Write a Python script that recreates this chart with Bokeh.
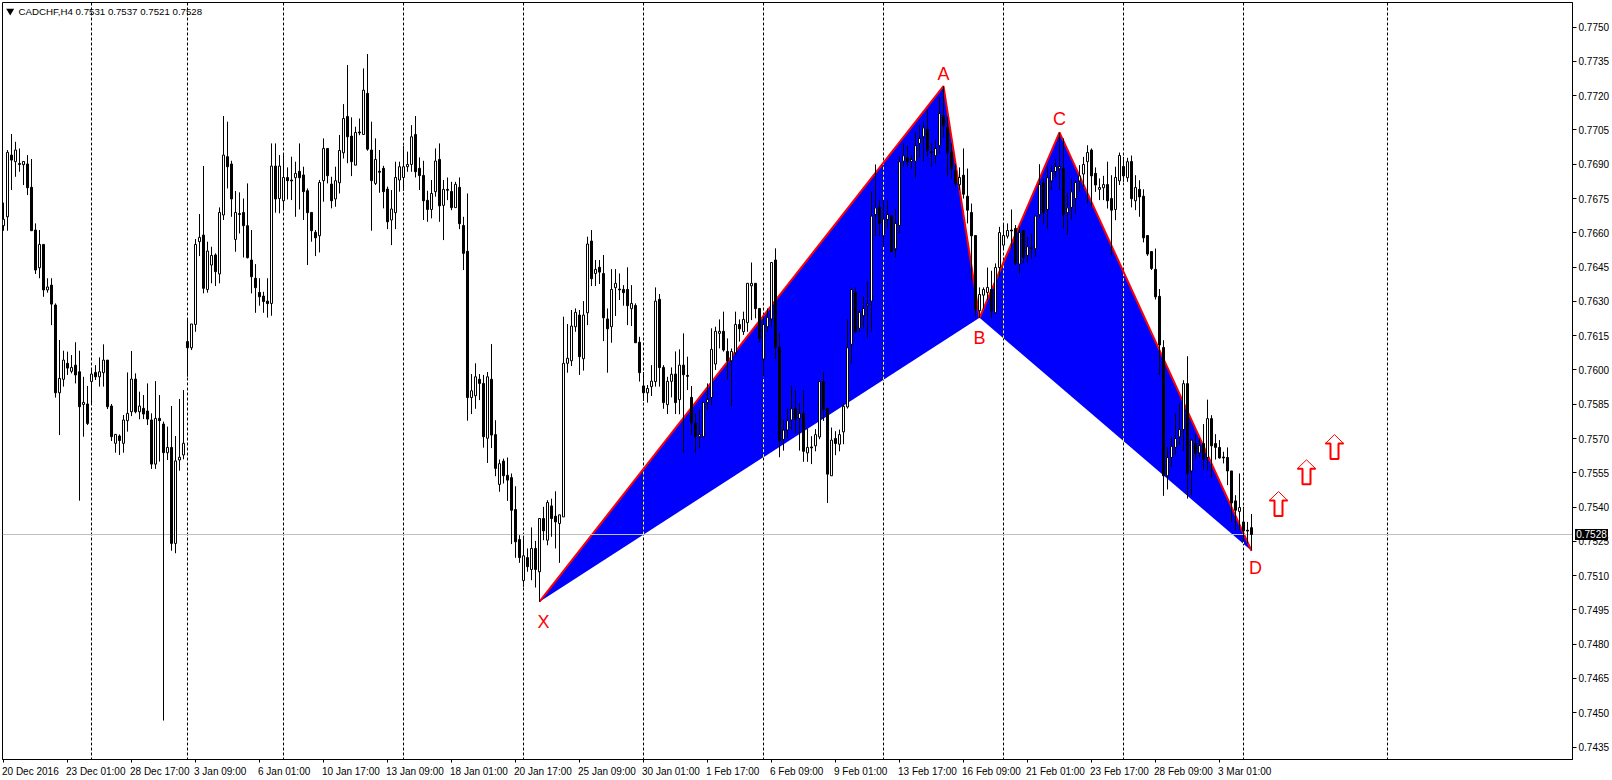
from bokeh.plotting import figure
from bokeh.layouts import column
from bokeh.models import Range1d, FixedTicker, NumeralTickFormatter, Span, Label, Div, ColumnDataSource
from bokeh.core.properties import value
from bokeh.embed import file_html
from bokeh.resources import INLINE

# CADCHF H4 candles, in points (1e-5)
open_pts = [
76631,76670,76940,76911,76903,76898,76901,76799,76612,76447,
76549,76350,76371,76284,75900,75959,76029,75994,76021,75992,
75849,75851,75949,75989,75970,75988,76043,75842,75679,75711,
75679,75778,75817,75960,75817,75832,75820,75781,75588,75788,
75763,75638,75661,75241,75606,75628,76124,76097,76199,76561,
76590,76352,76459,76503,76420,76678,76933,76901,76571,76684,
76689,76631,76481,76401,76339,76323,76301,76291,76892,76750,
76740,76842,76831,76841,76869,76853,76784,76689,76602,76587,
76828,76969,76813,76748,76819,76950,77109,77023,76896,77041,
77030,77210,76962,76816,76869,76882,76791,76656,76688,76831,
76842,76889,76899,77030,76882,76851,76742,76702,76780,76921,
76720,76790,76781,76710,76799,76632,76519,75879,75887,75959,
75941,75701,75959,75717,75499,75601,75539,75529,75389,75258,
75079,75179,75127,75219,75117,75350,75255,75405,75360,75328,
75357,76029,76040,76189,76240,76049,76250,76564,76422,76449,
76422,76223,76189,76360,76354,76352,76352,76268,76282,76121,
75930,75900,75927,75949,76309,76011,75848,75950,75982,75870,
76021,75976,75880,75766,75708,75708,75857,75879,76026,76160,
76169,76081,76040,76075,76199,76167,76207,76368,76379,76269,
76048,76189,76223,76481,76099,75696,75737,75781,75830,75788,
75809,75637,75663,75668,75707,75949,75831,75537,75700,75675,
75729,75838,76112,76339,76182,76237,76281,76301,76680,76711,
76587,76658,76674,76530,76632,76913,76928,76912,76913,76991,
77020,77052,76954,76937,76981,77110,77061,76953,76871,76810,
76852,76760,76689,76588,76259,76327,76339,76352,76250,76448,
76546,76585,76612,76619,76463,76610,76501,76534,76530,76679,
76820,76702,76827,76868,76880,76881,76688,76711,76750,76827,
76857,76911,76962,76860,76790,76797,76811,76750,76702,76827,
76890,76841,76912,76740,76790,76760,76588,76518,76440,76322,
76098,75537,75617,75661,75707,75739,75940,75558,75678,75637,
75678,75617,75787,75678,75661,75619,75617,75558,75427,75381,
75335,75299,75310]

close_pts = [
76659,76952,76918,76962,76899,76912,76797,76609,76437,76549,
76350,76363,76288,75900,75963,76043,76008,76011,75978,75839,
75858,75766,75982,75970,75992,76043,75839,75708,75718,75691,
75781,75810,75960,75817,75842,75807,75785,75588,75788,75778,
75638,75661,75241,75602,75618,75679,76097,76201,76549,76580,
76357,76520,76501,76430,76689,76940,76889,76748,76689,76680,
76631,76491,76408,76360,76320,76299,76290,76892,76748,76892,
76842,76828,76827,76860,76841,76780,76688,76609,76578,76820,
76969,76850,76740,76828,76960,77100,77020,76911,77039,77037,
77224,76966,76828,76921,76865,76780,76648,76704,76842,76889,
76889,76899,77020,76867,76850,76740,76702,76772,76914,76718,
76790,76786,76710,76812,76640,76510,75879,75909,75970,75941,
75708,75970,75715,75569,75590,75537,75518,75386,75248,75179,
75187,75139,75219,75127,75350,75296,75420,75350,75335,75366,
76029,76051,76192,76252,76058,76240,76551,76399,76440,76428,
76228,76180,76352,76379,76350,76338,76281,76291,76119,75988,
75900,75919,75951,76301,76010,75857,75950,75981,75857,76021,
75979,75972,75769,75708,75718,75858,75871,76090,76169,76169,
76087,76039,76081,76199,76180,76221,76379,76379,76268,76137,
76199,76230,76470,76099,75690,75737,75778,75830,75785,75810,
75644,75661,75659,75717,75949,75828,75544,75693,75678,75717,
75841,76097,76352,76167,76252,76269,76288,76673,76709,76641,
76660,76680,76517,76641,76911,76937,76911,76921,76981,77013,
77059,76959,76950,76969,77122,77068,76950,76879,76816,76842,
76769,76699,76587,76266,76330,76352,76361,76257,76448,76601,
76588,76610,76608,76466,76601,76492,76539,76530,76673,76811,
76688,76841,76868,76890,76890,76679,76709,76779,76820,76849,
76899,76951,76849,76809,76798,76811,76740,76699,76842,76938,
76849,76911,76749,76798,76757,76578,76507,76444,76320,76109,
75537,75617,75666,75700,75739,75940,75547,75693,75634,75669,
75608,75787,75668,75661,75615,75615,75558,75418,75386,75398,
75296,75295,75280]

high_pts = [
76732,76962,77032,76998,76969,76912,76940,76923,76641,76612,
76549,76401,76401,76291,76131,76084,76080,76065,76121,76084,
75970,75930,76007,76021,76055,76112,76043,75851,75718,75718,
75803,75989,76083,75985,75905,75890,75941,75810,75951,75890,
75774,75752,75842,75711,75873,75912,76218,76201,76573,76682,
76892,76561,76539,76510,76711,77111,77086,76915,76783,76777,
76750,76816,76612,76463,76401,76342,76401,76991,76991,76940,
76940,76886,76933,76911,76991,76889,76794,76689,76612,76831,
77013,76969,76845,76889,77028,77163,77334,77105,77064,77100,
77319,77382,77086,77013,76962,76893,76802,76787,76911,76911,
76979,76955,77071,77111,76930,76915,76784,76831,76969,76991,
76831,76842,76823,76823,76842,76670,76772,75982,76029,75982,
75978,75991,76113,75780,75608,75612,75617,75547,75491,75277,
75273,75219,75311,75252,75350,75401,75430,75437,75469,75366,
76233,76201,76262,76269,76262,76301,76583,76612,76481,76481,
76503,76269,76441,76441,76422,76371,76449,76371,76291,76145,
75991,75934,76021,76361,76332,76021,75970,76011,76081,76090,
76160,76058,75930,75810,75830,75858,75941,76182,76189,76221,
76255,76138,76094,76255,76221,76255,76379,76470,76379,76269,
76233,76269,76470,76532,76160,75781,75830,75930,75912,75854,
75911,75744,75710,75741,75949,75989,75831,75748,75732,75739,
75853,76221,76352,76361,76262,76323,76386,76779,76899,76743,
76743,76743,76674,76704,76935,76991,76983,76940,77039,77071,
77086,77137,76991,77005,77195,77242,77107,76991,76900,76886,
76969,76881,76728,76588,76361,76361,76448,76434,76466,76626,
76641,76641,76702,76634,76626,76610,76583,76597,76673,76900,
76838,76889,76896,76922,77039,77013,76772,76838,76830,76896,
76932,76983,76969,76886,76838,76849,76911,76852,76889,76951,
76932,76928,76938,76852,76830,76790,76588,76518,76531,76354,
76130,75663,75707,75809,75853,75955,76060,75693,75719,75700,
75763,75870,75802,75719,75693,75642,75661,75558,75452,75547,
75401,75335,75370]

low_pts = [
76609,76609,76787,76845,76867,76809,76765,76609,76420,76401,
76320,76338,76196,75879,75715,75927,75978,75985,75941,75428,
75708,75759,75854,75956,75927,75927,75829,75689,75638,75628,
75638,75730,75798,75810,75784,75785,75759,75567,75567,75599,
74466,75606,75209,75198,75559,75609,75970,76087,76167,76498,
76335,76338,76379,76367,76379,76656,76794,76670,76517,76597,
76492,76488,76335,76250,76281,76250,76229,76237,76688,76685,
76699,76746,76743,76670,76702,76656,76459,76561,76498,76514,
76736,76816,76707,76714,76772,76925,76904,76848,76896,77027,
77030,76959,76609,76809,76775,76707,76616,76546,76616,76780,
76784,76867,76867,76842,76787,76656,76648,76663,76758,76648,
76568,76743,76699,76710,76616,76437,75778,75807,75830,75868,
75660,75593,75658,75535,75467,75503,75427,75238,75178,75156,
75051,75117,75080,75048,74985,75255,75233,75270,75219,75156,
75357,75988,76017,76167,75978,75997,76196,76367,76367,76376,
76126,75988,76119,76236,76306,76281,76196,76192,76119,75949,
75864,75857,75886,75927,75927,75830,75807,75880,75807,75806,
75638,75912,75715,75638,75657,75708,75825,75846,76000,76094,
76080,75956,75839,76065,76124,76153,76167,76218,76226,76122,
75970,76167,76189,76048,75618,75647,75701,75737,75723,75647,
75598,75598,75588,75644,75697,75777,75418,75537,75627,75644,
75675,75831,76028,76160,76167,76182,76138,76167,76585,76585,
76539,76619,76517,76492,76600,76889,76889,76881,76838,76930,
76911,76935,76889,76903,76947,77017,76848,76838,76798,76787,
76750,76641,76393,76233,76228,76269,76305,76228,76247,76408,
76524,76575,76531,76459,76419,76466,76466,76488,76495,76663,
76638,76619,76787,76842,76787,76619,76590,76658,76685,76779,
76801,76728,76714,76779,76743,76743,76706,76502,76655,76809,
76823,76823,76711,76699,76670,76558,76499,76437,76308,75977,
75449,75477,75576,75627,75671,75644,75437,75448,75608,75617,
75564,75561,75528,75608,75612,75591,75496,75335,75299,75299,
75248,75241,75210]

# Harmonic pattern
pattern_names = ["X", "A", "B", "C", "D"]
pattern_bars = [134, 235, 244, 264, 312]
pattern_prices = [0.74986, 0.77242, 0.76228, 0.77039, 0.75209]

# Projected up arrows
arrow_bars = [318.75, 325.75, 332.75]
arrow_base_prices = [0.75361, 0.75500, 0.75610]

# Weekly separators (bar index) and axis
separator_bars = [22, 46, 70, 100, 130, 160, 190, 220, 250, 280, 310, 346]
x_tick_labels = ["20 Dec 2016", "23 Dec 01:00", "28 Dec 17:00", "3 Jan 09:00", "6 Jan 01:00",
                 "10 Jan 17:00", "13 Jan 09:00", "18 Jan 01:00", "20 Jan 17:00", "25 Jan 09:00",
                 "30 Jan 01:00", "1 Feb 17:00", "6 Feb 09:00", "9 Feb 01:00", "13 Feb 17:00",
                 "16 Feb 09:00", "21 Feb 01:00", "23 Feb 17:00", "28 Feb 09:00", "3 Mar 01:00"]
y_ticks = [0.7435, 0.7450, 0.7465, 0.7480, 0.7495, 0.7510, 0.7525, 0.7540, 0.7555, 0.7570, 0.7585,
           0.7600, 0.7615, 0.7630, 0.7645, 0.7660, 0.7675, 0.7690, 0.7705, 0.7720, 0.7735, 0.7750]
last_price = 0.7528
title_text = "CADCHF,H4  0.7531 0.7537 0.7521 0.7528"

FONT = "Liberation Sans"
PX_PER_BAR = 4.0
PX_PER_UNIT = 22857.0
F_LEFT, F_RIGHT, F_TOP, F_BOTTOM = 2, 1572, 2, 759


def bar_at(px):
    # Bokeh draws with a half-pixel translation, so bar k lands on the pixel column 3 + 4k
    return (px - 3.0) / PX_PER_BAR


def price_at(py):
    return last_price + (534.0 - py) / PX_PER_UNIT


p = figure(width=1612, height=780, output_backend="svg", toolbar_location=None,
           x_range=Range1d(bar_at(F_LEFT), bar_at(F_RIGHT)),
           y_range=Range1d(price_at(F_BOTTOM), price_at(F_TOP)),
           x_axis_location="below", y_axis_location="right",
           min_border_left=F_LEFT, min_border_right=1612 - F_RIGHT,
           min_border_top=F_TOP, min_border_bottom=780 - F_BOTTOM,
           background_fill_color="white", border_fill_color="white")
p.grid.visible = False
p.outline_line_color = "black"
p.outline_line_width = 1

# x axis: tick marks are the minor ticks at the real positions, the labels are centred on
# major ticks moved right by half a label width, which gives MT4's left-aligned dates.
CHAR_W = {" ": 2.78, ":": 2.78, "D": 7.22, "e": 5.56, "c": 5.0, "J": 5.0, "a": 5.56, "n": 5.56,
          "F": 6.11, "b": 5.56, "M": 8.33, "r": 3.33}


def label_shift(text):
    width = sum(CHAR_W.get(ch, 5.56) for ch in text)
    return (width / 2 - 1.5) / PX_PER_BAR


ticks = [16 * i for i in range(len(x_tick_labels))]
label_ticks = [round(t + label_shift(s), 3) for t, s in zip(ticks, x_tick_labels)]
p.xaxis.ticker = FixedTicker(ticks=label_ticks, minor_ticks=ticks)
p.xaxis.major_label_overrides = dict(zip(label_ticks, x_tick_labels))
p.xaxis.major_tick_line_color = None
p.xaxis.major_tick_in = 0
p.xaxis.major_tick_out = 0
p.xaxis.minor_tick_in = 0
p.xaxis.minor_tick_out = 3
p.xaxis.minor_tick_line_color = "black"
p.xaxis.major_label_standoff = 3
p.xaxis.major_label_text_font = FONT
p.xaxis.major_label_text_font_size = "10px"
p.xaxis.major_label_text_color = "black"
p.xaxis.axis_line_color = "black"

# y axis
p.yaxis.ticker = FixedTicker(ticks=y_ticks)
p.yaxis.formatter = NumeralTickFormatter(format="0.0000")
p.yaxis.major_tick_in = 0
p.yaxis.major_tick_out = 4
p.yaxis.minor_tick_line_color = None
p.yaxis.major_label_standoff = 2
p.yaxis.major_label_text_font = FONT
p.yaxis.major_label_text_font_size = "10px"
p.yaxis.major_label_text_color = "black"
p.yaxis.axis_line_color = "black"
p.yaxis.major_tick_line_color = "black"

# separators
for b in separator_bars:
    p.add_layout(Span(location=b, dimension="height", line_color="black", line_width=1,
                      line_dash="3 2", level="underlay"))

# blue wings
xs_wing = [[pattern_bars[0], pattern_bars[1], pattern_bars[2]],
           [pattern_bars[2], pattern_bars[3], pattern_bars[4]]]
ys_wing = [[pattern_prices[0], pattern_prices[1], pattern_prices[2]],
           [pattern_prices[2], pattern_prices[3], pattern_prices[4]]]
p.patches(xs_wing, ys_wing, fill_color="#0000FF", line_color=None)


def wing_span(bar):
    """Price extent of the wing at a bar, for the XOR-coloured separators."""
    for xs, ys in zip(xs_wing, ys_wing):
        if xs[0] < bar < xs[2]:
            low = ys[0] + (ys[2] - ys[0]) * (bar - xs[0]) / (xs[2] - xs[0])
            if bar <= xs[1]:
                high = ys[0] + (ys[1] - ys[0]) * (bar - xs[0]) / (xs[1] - xs[0])
            else:
                high = ys[1] + (ys[2] - ys[1]) * (bar - xs[1]) / (xs[2] - xs[1])
            return low, high
    return None


for b in separator_bars:
    s = wing_span(b)
    if s:
        p.segment([b], [s[0]], [b], [s[1]], line_color="#FFFF00", line_width=1, line_dash="3 2")

# red legs
p.line(pattern_bars[:4], pattern_prices[:4], line_color="#FF0000", line_width=2)
p.line(pattern_bars[3:], pattern_prices[3:], line_color="#FF0000", line_width=2)

# last price line
p.line([bar_at(F_LEFT), bar_at(F_RIGHT)], [last_price, last_price], line_color="#C0C0C0", line_width=1)

# candles
n = len(open_pts)
assert n == len(close_pts) == len(high_pts) == len(low_pts)
bars = list(range(n))
o = [v / 1e5 for v in open_pts]
c = [v / 1e5 for v in close_pts]
h = [v / 1e5 for v in high_pts]
l = [v / 1e5 for v in low_pts]
src = ColumnDataSource(dict(x=bars, o=o, c=c, h=h, l=l,
                            fill=["white" if cv >= ov else "black" for ov, cv in zip(o, c)]))
p.segment("x", "h", "x", "l", source=src, line_color="black", line_width=1)
p.vbar("x", width=0.5, top="o", bottom="c", source=src, fill_color="fill", line_color="black", line_width=1)

# pattern letters
letter_dx = [4, 0, 0, 0, 4]
letter_dy = [20, -12, 20, -13, 17]
p.text(pattern_bars, pattern_prices, text=pattern_names, x_offset=letter_dx, y_offset=letter_dy,
       text_color="#FF0000", text_font=value(FONT), text_font_size="18px",
       text_align="center", text_baseline="middle")

# arrows
dx, dy = 1 / PX_PER_BAR, 1 / PX_PER_UNIT
for b, base in zip(arrow_bars, arrow_base_prices):
    head_y = base + 15.5 * dy
    tip_y = base + 24.4 * dy
    p.line([b - 9.2 * dx, b, b + 9.2 * dx], [head_y, tip_y, head_y], line_color="#FF0000", line_width=1)
    p.line([b - 9.2 * dx, b - 4 * dx, b - 4 * dx, b + 4 * dx, b + 4 * dx, b + 9.2 * dx],
           [head_y, head_y, base, base, head_y, head_y], line_color="#FF0000", line_width=2)

# header
p.scatter([bar_at(9.7)], [price_at(10.5)], marker="inverted_triangle", size=8,
          fill_color="black", line_color="black", line_width=0)
p.add_layout(Label(x=bar_at(18), y=price_at(10.5), text=title_text, text_font=FONT,
                   text_font_size="9.7px", text_color="black", text_baseline="middle"))

# last price tag: canvas annotations are clipped to the frame, so it is a small Div laid over the axis
tag = Div(text=f"{last_price:.4f}", width=33, height=11,
          styles={"position": "absolute", "left": "1575px", "top": "529px", "z-index": "10",
                  "background-color": "black", "color": "white", "font-family": FONT,
                  "font-size": "10px", "line-height": "11px", "text-align": "center",
                  "margin": "0", "padding": "0", "overflow": "hidden"})

layout = column(p, tag, spacing=0)
open("out.html", "w").write(file_html(layout, INLINE))
